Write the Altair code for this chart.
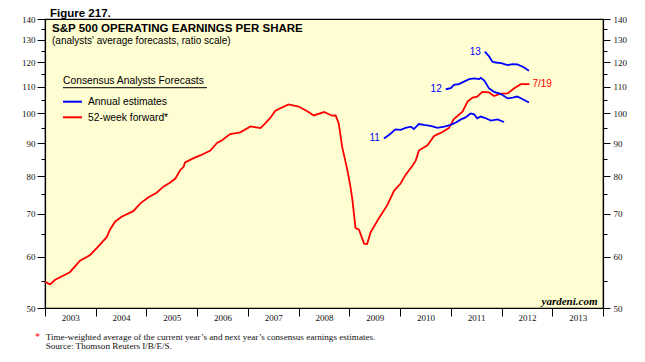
import altair as alt
import pandas as pd

# ---- data (fractional year, EPS in $) ----
red_year = [2003.00, 2003.10, 2003.20, 2003.49, 2003.69, 2003.89, 2004.02, 2004.22, 2004.28, 2004.38,
            2004.51, 2004.74, 2004.88, 2005.04, 2005.20, 2005.34, 2005.47, 2005.57, 2005.67, 2005.73,
            2005.76, 2005.93, 2006.06, 2006.26, 2006.39, 2006.49, 2006.65, 2006.85, 2007.05, 2007.25,
            2007.34, 2007.44, 2007.54, 2007.80, 2008.00, 2008.17, 2008.30, 2008.50, 2008.66, 2008.73,
            2008.79, 2008.86, 2008.96, 2009.02, 2009.06, 2009.12, 2009.19, 2009.29, 2009.35, 2009.42,
            2009.58, 2009.75, 2009.88, 2010.01, 2010.11, 2010.24, 2010.31, 2010.37, 2010.54, 2010.67,
            2010.80, 2010.96, 2011.06, 2011.23, 2011.33, 2011.43, 2011.52, 2011.62, 2011.75, 2011.85,
            2011.98, 2012.12, 2012.25, 2012.38, 2012.55]
red_value = [54.9, 54.4, 55.3, 56.8, 59.2, 60.4, 61.9, 64.4, 66.1, 68.0,
             69.2, 70.6, 72.6, 74.2, 75.4, 77.1, 78.2, 79.3, 81.8, 82.6,
             84.0, 85.3, 86.1, 87.6, 90.0, 90.9, 92.9, 93.5, 95.5, 94.9,
             96.5, 98.4, 101.0, 103.3, 102.5, 100.8, 99.3, 100.5, 99.2, 99.3,
             96.5, 88.6, 81.8, 77.1, 73.5, 66.5, 66.1, 62.9, 62.8, 65.5,
             68.8, 72.2, 75.9, 77.9, 80.4, 82.9, 84.6, 87.6, 89.3, 92.3,
             93.3, 94.9, 98.0, 100.6, 104.3, 105.8, 106.2, 108.0, 107.8, 106.4,
             107.3, 107.4, 109.4, 111.0, 111.0]

e11_year = [2009.68, 2009.78, 2009.91, 2010.01, 2010.11, 2010.21, 2010.27, 2010.37, 2010.47, 2010.60,
            2010.74, 2010.87, 2011.00, 2011.10, 2011.20, 2011.29, 2011.39, 2011.46, 2011.52, 2011.59,
            2011.69, 2011.79, 2011.92, 2012.05]
e11_value = [91.5, 92.6, 94.5, 94.3, 95.0, 95.4, 94.6, 96.3, 96.0, 95.7,
             95.0, 95.4, 96.0, 96.8, 97.9, 98.6, 100.0, 99.7, 98.3, 98.9,
             98.3, 97.5, 97.9, 97.0]

e12_year = [2010.90, 2011.00, 2011.06, 2011.16, 2011.26, 2011.36, 2011.46, 2011.56, 2011.59, 2011.66,
            2011.75, 2011.85, 2011.95, 2012.02, 2012.12, 2012.22, 2012.31, 2012.41, 2012.54]
e12_value = [109.0, 109.4, 110.7, 111.0, 112.0, 113.0, 113.3, 113.0, 113.5, 112.4,
             109.4, 108.0, 107.4, 106.8, 105.5, 105.8, 106.2, 105.3, 104.0]

e13_year = [2011.67, 2011.75, 2011.82, 2011.89, 2011.99, 2012.12, 2012.22, 2012.31, 2012.41, 2012.48, 2012.54]
e13_value = [124.6, 122.7, 120.2, 119.9, 119.6, 118.8, 119.2, 119.1, 118.2, 117.3, 116.4]

series_labels = ["11", "12", "13"]
end_label = "7/19"
y_major = [50, 60, 70, 80, 90, 100, 110, 120, 130, 140]
y_minor = [55, 65, 75, 85, 95, 105, 115, 125, 135]
year_ticks = list(range(2003, 2015))
year_label_pos = [y + 0.5 for y in range(2003, 2014)]

# ---- tables ----
red_df = pd.DataFrame({"year": red_year, "eps": red_value})
blue_df = pd.concat([
    pd.DataFrame({"year": e11_year, "eps": e11_value, "series": "11"}),
    pd.DataFrame({"year": e12_year, "eps": e12_value, "series": "12"}),
    pd.DataFrame({"year": e13_year, "eps": e13_value, "series": "13"}),
])
lab_df = pd.DataFrame({
    "year": [e11_year[0], e12_year[0], e13_year[0]],
    "eps": [e11_value[0], e12_value[0], e13_value[0]],
    "text": series_labels,
})
end_df = pd.DataFrame({"year": [red_year[-1]], "eps": [red_value[-1]], "text": [end_label]})
one = pd.DataFrame({"k": [0]})

SERIF = "Liberation Serif"
SANS = "Liberation Sans"
RED = "#FF0000"
BLUE = "#0000FF"

xs = alt.Scale(domain=[2003, 2014], nice=False, zero=False)
ys = alt.Scale(type="log", domain=[50, 140], nice=False)

axc = dict(title=None, grid=False, domainColor="black", tickColor="black", labelColor="#111",
           labelFont=SERIF, labelFontSize=9, tickWidth=1, domainWidth=1.2)

red = alt.Chart(red_df).mark_line(color=RED, strokeWidth=1.8).encode(
    x=alt.X("year:Q", scale=xs, axis=alt.Axis(values=year_ticks, labels=False, tickSize=8,
                                               orient="bottom", **axc)),
    y=alt.Y("eps:Q", scale=ys, axis=alt.Axis(values=y_major, format="d", orient="left",
                                              tickSize=8, labelPadding=2, **axc)),
)

blue = alt.Chart(blue_df).mark_line(color=BLUE, strokeWidth=1.8).encode(
    x=alt.X("year:Q", scale=xs, axis=alt.Axis(values=year_label_pos,
                                               labelExpr="format(floor(datum.value), 'd')",
                                               ticks=False, domain=False, labelPadding=5,
                                               labelOverlap=False, labelFlush=False,
                                               orient="bottom", **axc)),
    y=alt.Y("eps:Q", scale=ys, axis=alt.Axis(values=y_minor, labels=False, tickSize=4,
                                              domain=False, orient="left", **axc)),
    detail="series:N",
)

labs = alt.Chart(lab_df).mark_text(align="right", baseline="middle", dx=-4, font=SANS,
                                   fontSize=10, color=BLUE).encode(
    x=alt.X("year:Q", scale=xs, axis=None),
    y=alt.Y("eps:Q", scale=ys, axis=alt.Axis(values=y_major, format="d", orient="right",
                                              tickSize=7, labelPadding=3, **axc)),
    text="text:N",
)

endlab = alt.Chart(end_df).mark_text(align="left", baseline="middle", dx=3, font=SANS,
                                     fontSize=10, color=RED).encode(
    x=alt.X("year:Q", scale=xs, axis=None),
    y=alt.Y("eps:Q", scale=ys, axis=alt.Axis(values=y_minor, labels=False, tickSize=4,
                                              domain=False, orient="right", **axc)),
    text="text:N",
)


def txt(s, x, y, **kw):
    return alt.Chart(one).mark_text(**kw).encode(x=alt.value(x), y=alt.value(y), text=alt.value(s))


def rule(x1, x2, y, color, w):
    return alt.Chart(one).mark_rule(color=color, strokeWidth=w).encode(
        x=alt.value(x1), x2=alt.value(x2), y=alt.value(y))


annots = [
    txt("Figure 217.", 5, -2.2, align="left", baseline="alphabetic", font=SANS, fontSize=11.5,
        fontWeight="bold", color="black"),
    txt("S&P 500 OPERATING EARNINGS PER SHARE", 7, 13.3, align="left", baseline="alphabetic",
        font=SANS, fontSize=11.5, fontWeight="bold", color="black"),
    txt("(analysts' average forecasts, ratio scale)", 7, 25, align="left", baseline="alphabetic",
        font=SANS, fontSize=10, color="black"),
    txt("Consensus Analysts Forecasts", 18, 65.3, align="left", baseline="alphabetic",
        font=SANS, fontSize=10.3, color="black"),
    rule(18, 162, 68.7, "black", 1),
    rule(18, 37, 82.7, BLUE, 2),
    txt("Annual estimates", 43, 83, align="left", baseline="middle", font=SANS, fontSize=10.3,
        color="black"),
    rule(18, 37, 98.3, RED, 2),
    txt("52-week forward*", 43, 98.6, align="left", baseline="middle", font=SANS, fontSize=10.3,
        color="black"),
    txt("yardeni.com", 552.5, 286, align="right", baseline="alphabetic", font=SERIF, fontSize=11,
        fontWeight="bold", fontStyle="italic", color="black"),
    txt("*", -10, 318, align="left", baseline="middle", font=SERIF, fontSize=10, color=RED),
    txt("Time-weighted average of the current year\u2019s and next year\u2019s consensus earnings estimates.",
        0.7, 318, align="left", baseline="middle", font=SERIF, fontSize=9.1, color="#111"),
    txt("Source: Thomson Reuters I/B/E/S.", 0.7, 326.5, align="left", baseline="middle",
        font=SERIF, fontSize=9.1, color="#111"),
]

chart = alt.layer(red, blue, labs, endlab, *annots).resolve_axis(
    x="independent", y="independent"
).properties(
    width=558, height=289,
    autosize=alt.AutoSizeParams(type="none"),
    padding={"left": 37, "top": 11, "right": 34, "bottom": 44},
).configure_view(
    fill="#FFFED2", stroke="black", strokeWidth=1.2
)

chart.save("out.html", embed_options={"renderer": "svg", "actions": False})
